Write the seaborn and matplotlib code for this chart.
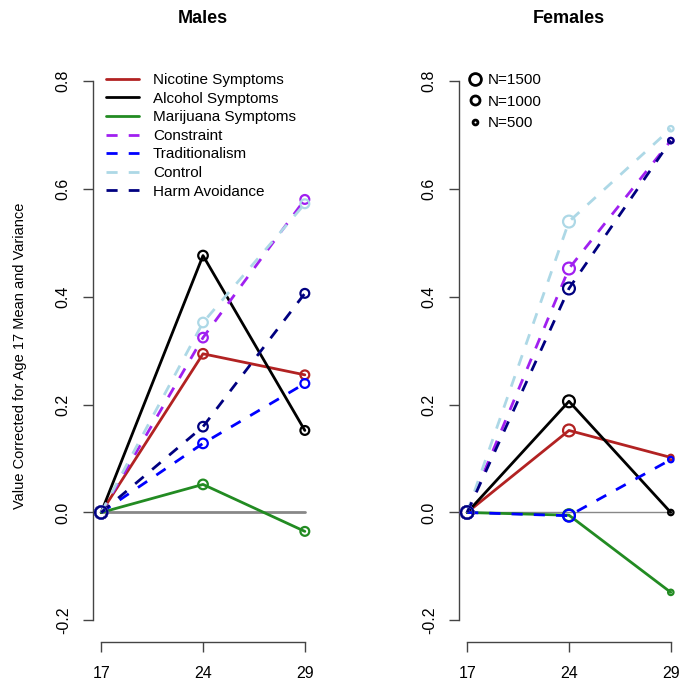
import numpy as np
import pandas as pd
import matplotlib
matplotlib.use('Agg')
import matplotlib.pyplot as plt
from matplotlib.lines import Line2D
import seaborn as sns

sns.set_style('white')
plt.rcParams['font.family'] = ['Liberation Sans', 'DejaVu Sans']
plt.rcParams['text.color'] = 'black'

# Dados
ages = ['17', '24', '29']
measures = ['Nicotine Symptoms', 'Alcohol Symptoms', 'Marijuana Symptoms',
            'Constraint', 'Traditionalism', 'Control', 'Harm Avoidance']
colors = ['#B22222', '#000000', '#228B22', '#A020F0', '#0000FF', '#ADD8E6', '#000080']
dashed = [False, False, False, True, True, True, True]

males = {
    'Nicotine Symptoms':  [0, 0.294, 0.255],
    'Alcohol Symptoms':   [0, 0.476, 0.152],
    'Marijuana Symptoms': [0, 0.052, -0.035],
    'Constraint':         [0, 0.324, 0.580],
    'Traditionalism':     [0, 0.128, 0.239],
    'Control':            [0, 0.352, 0.572],
    'Harm Avoidance':     [0, 0.159, 0.406],
}
females = {
    'Nicotine Symptoms':  [0, 0.152, 0.102],
    'Alcohol Symptoms':   [0, 0.206, 0.000],
    'Marijuana Symptoms': [0, -0.005, -0.148],
    'Constraint':         [0, 0.452, 0.689],
    'Traditionalism':     [0, -0.006, 0.098],
    'Control':            [0, 0.539, 0.711],
    'Harm Avoidance':     [0, 0.415, 0.689],
}
n_males = [1450, 1050, 950]
n_females = [1500, 1400, 600]

fig = plt.figure(figsize=(6.81, 6.86), dpi=100)
ax1 = fig.add_axes([0.1366, 0.0641, 0.323, 0.834])
ax2 = fig.add_axes([0.674, 0.0641, 0.323, 0.834])


def panel(ax, data, ns, title, hline_lw):
    x = np.arange(1, 4)
    ax.plot([1, 3], [0, 0], color='#888888', lw=hline_lw, zorder=1)
    for m, c, d in zip(measures, colors, dashed):
        df = pd.DataFrame({'x': x, 'y': data[m], 'n': ns})
        sns.lineplot(data=df, x='x', y='y', ax=ax, color=c, lw=2,
                     linestyle='--' if d else '-', dashes=False, zorder=2)
        if d:
            ax.lines[-1].set_dashes((4, 4))
        sns.scatterplot(data=df, x='x', y='y', size='n', sizes=(8, 80),
                        size_norm=(500, 1500), ax=ax, legend=False, zorder=3)
        col = ax.collections[-1]
        col.set_facecolor('none')
        col.set_edgecolor(c)
        col.set_linewidth(1.6)
    ax.set_xlim(0.92, 3.08)
    ax.set_ylim(-0.24, 0.82)
    ax.set_xticks([1, 2, 3])
    ax.set_xticklabels(ages)
    ax.set_yticks([-0.2, 0, 0.2, 0.4, 0.6, 0.8])
    ax.set_yticklabels(['-0.2', '0.0', '0.2', '0.4', '0.6', '0.8'],
                       rotation=90, va='center')
    for s in ['top', 'right']:
        ax.spines[s].set_visible(False)
    ax.spines['left'].set_bounds(-0.2, 0.8)
    ax.spines['bottom'].set_bounds(1, 3)
    for s in ['left', 'bottom']:
        ax.spines[s].set_color('#444444')
        ax.spines[s].set_linewidth(1)
    ax.tick_params(axis='both', direction='out', length=7, width=1,
                   color='#444444', labelcolor='black', labelsize=11.5,
                   left=True, bottom=True)
    ax.tick_params(axis='x', pad=10)
    ax.tick_params(axis='y', pad=9)
    ax.set_xlabel('')
    ax.set_ylabel('')
    bb = ax.get_position()
    fig.text(bb.x0 + bb.width / 2, 0.973, title, fontsize=13, fontweight='bold',
             ha='center', va='center', color='black')


panel(ax1, males, n_males, 'Males', 2.0)
panel(ax2, females, n_females, 'Females', 1.0)

ax1.set_ylabel('Value Corrected for Age 17 Mean and Variance', fontsize=10.5,
               color='black')
ax1.yaxis.set_label_coords(-0.30, 0.5)

handles = [Line2D([0], [0], color=c, lw=2, linestyle='--' if d else '-')
           for c, d in zip(colors, dashed)]
for h, d in zip(handles, dashed):
    if d:
        h.set_dashes((4, 4))
ax1.legend(handles, measures, loc='upper left', bbox_to_anchor=(0.03, 1.005),
           frameon=False, fontsize=11, handlelength=2.2, labelspacing=0.3,
           handletextpad=0.9, borderaxespad=0, labelcolor='black')

size_handles = [Line2D([0], [0], marker='o', color='none', markeredgecolor='black',
                       markerfacecolor='none', markeredgewidth=2, markersize=ms)
                for ms in [8.5, 6.5, 3.5]]
ax2.legend(size_handles, ['N=1500', 'N=1000', 'N=500'], loc='upper left',
           bbox_to_anchor=(-0.01, 1.005), frameon=False, fontsize=11,
           labelspacing=0.5, handletextpad=0.0, handlelength=1.6,
           borderaxespad=0, labelcolor='black')

fig.savefig('out.png', dpi=100)
